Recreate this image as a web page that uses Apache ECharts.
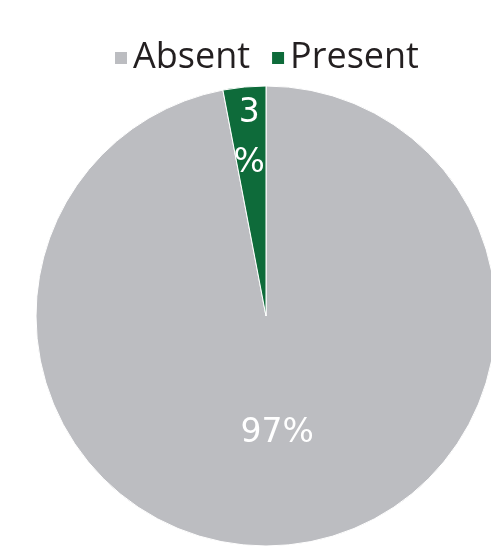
<!DOCTYPE html>
<html><head><meta charset="utf-8">
<script src="https://cdn.jsdelivr.net/npm/echarts@6/dist/echarts.min.js"></script>
<style>html,body{margin:0;padding:0;background:#fff}#c{width:491px;height:554px}</style>
</head><body><div id="c"></div>
<script>
const categories = ['Absent', 'Present'];
const values = [97, 3];
const labelTexts = ['97%', '3\n%'];
const colors = ['#bcbdc1', '#0e6b3a'];

const data = categories.map((n, i) => ({ name: n, value: values[i], itemStyle: { color: colors[i] } }));
const chart = echarts.init(document.getElementById('c'));
chart.setOption({
  animation: false,
  legend: {
    data: categories,
    top: 35, left: 108,
    icon: 'rect', itemWidth: 14, itemHeight: 14, itemGap: 20,
    textStyle: { fontFamily: 'Open Sans', fontSize: 36, color: '#231f20' }
  },
  series: [
    {
      type: 'pie', center: [266, 316], radius: [0, 230], startAngle: 90, clockwise: true,
      data: data,
      itemStyle: { borderColor: '#fff', borderWidth: 1 },
      label: {
        position: 'inside', color: '#fff', fontFamily: 'DejaVu Sans', fontSize: 33,
        formatter: p => p.dataIndex === 0 ? labelTexts[0] : ''
      },
      labelLine: { show: false }
    },
    {
      type: 'pie', center: [266, 316], radius: [0, 350], startAngle: 90, clockwise: true, silent: true, z: 5,
      data: categories.map((n, i) => ({ name: n, value: values[i] })),
      itemStyle: { color: 'transparent', borderWidth: 0 },
      label: {
        position: 'inside', color: '#fff', fontFamily: 'DejaVu Sans', fontSize: 33, lineHeight: 50,
        formatter: p => p.dataIndex === 1 ? labelTexts[1] : ''
      },
      labelLine: { show: false },
      emphasis: { disabled: true }
    }
  ]
});
</script></body></html>
